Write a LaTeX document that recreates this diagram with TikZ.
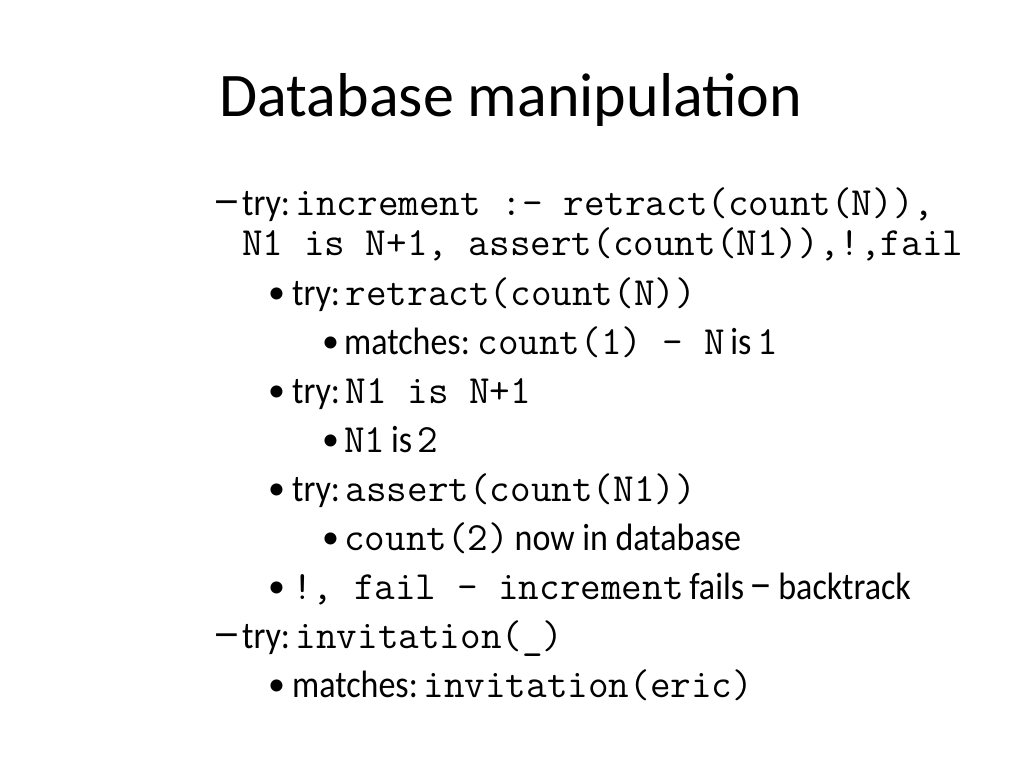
\documentclass[tikz,border=0pt]{standalone}
\usepackage{graphicx}
\usepackage{fontspec}
\setmainfont{Carlito}
\newcommand\mono[1]{{\fontsize{40}{44}\selectfont\ttfamily #1}}
\newcommand\bt[1]{\scalebox{1}[1.12]{#1}}
\newcommand\longdash{\raisebox{1pt}{\scalebox{1.7}[1.3]{–}}}
\newcommand\middash{\raisebox{1pt}{\scalebox{1.35}[1.3]{–}}}
\begin{document}
\begin{tikzpicture}[x=1pt,y=-1pt,
  txt/.style={anchor=base west,inner sep=0pt,font=\fontsize{34}{40}\selectfont},
  bulletmark/.style={anchor=base west,inner sep=0pt,font=\fontsize{34}{40}\selectfont},
  ttl/.style={anchor=base,inner sep=0pt,font=\fontsize{62}{70}\selectfont}]
\useasboundingbox (0,0) rectangle (1024,768);
\node[ttl] (title) at (511,116) {Database manipulation};
% level 1 dash
\node[bulletmark] (d1) at (212,215) {\longdash};
\node[txt] (l1) at (242,215) {\bt{try:}\,\mono{increment~:-~retract(count(N)),}};
\node[txt] (l2) at (242,255) {\mono{N1~is~N+1,~assert(count(N1)),!,fail}};
\node[bulletmark] (b3) at (268,305) {\raisebox{1.5pt}{•}};
\node[txt] (l3) at (292,305) {\bt{try:}\,\mono{retract(count(N))}};
\node[bulletmark] (b4) at (322,354) {\raisebox{1.5pt}{•}};
\node[txt] (l4) at (344,354) {\bt{matches:}~\mono{count(1)~-~N}\,\bt{is}\,\mono{1}};
\node[bulletmark] (b5) at (268,403) {\raisebox{1.5pt}{•}};
\node[txt] (l5) at (292,403) {\bt{try:}\,\mono{N1~is~N+1}};
\node[bulletmark] (b6) at (322,452) {\raisebox{1.5pt}{•}};
\node[txt] (l6) at (344,452) {\mono{N1}\,\bt{is}\,\mono{2}};
\node[bulletmark] (b7) at (268,501) {\raisebox{1.5pt}{•}};
\node[txt] (l7) at (292,501) {\bt{try:}\,\mono{assert(count(N1))}};
\node[bulletmark] (b8) at (322,550) {\raisebox{1.5pt}{•}};
\node[txt] (l8) at (344,550) {\mono{count(2)}\,\bt{now in database}};
\node[bulletmark] (b9) at (268,599) {\raisebox{1.5pt}{•}};
\node[txt] (l9) at (292,599) {\mono{!,~fail~-~increment}\,\bt{fails}\,\middash\,\bt{backtrack}};
\node[bulletmark] (d10) at (212,648) {\longdash};
\node[txt] (l10) at (242,648) {\bt{try:}\,\mono{invitation(\_)}};
\node[bulletmark] (b11) at (268,697) {\raisebox{1.5pt}{•}};
\node[txt] (l11) at (292,697) {\bt{matches:}\,\mono{invitation(eric)}};
\end{tikzpicture}
\end{document}
